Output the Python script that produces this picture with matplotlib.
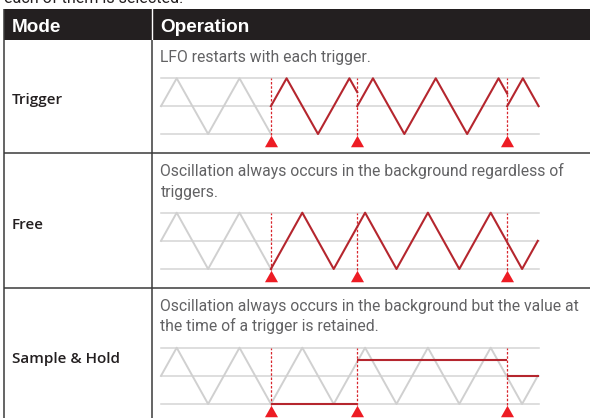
import matplotlib
matplotlib.use("Agg")
import matplotlib.pyplot as plt
from matplotlib.patches import Rectangle
from matplotlib.transforms import ScaledTranslation
from matplotlib import font_manager as fm

# ---------------- data ----------------
headers = ["Mode", "Operation"]
modes = ["Trigger", "Free", "Sample & Hold"]
descriptions = [
    "LFO restarts with each trigger.",
    "Oscillation always occurs in the background regardless of\ntriggers.",
    "Oscillation always occurs in the background but the value at\nthe time of a trigger is retained.",
]
intro_text = "each of them is selected."

# time in quarter LFO cycles, level -1..1
trigger_times = [7.0, 12.5, 22.05]
bg_t = [0, 1, 3, 5, 7, 9, 11, 13, 15, 17, 19, 21, 23, 24]
bg_v = [0, 1, -1, 1, -1, 1, -1, 1, -1, 1, -1, 1, -1, 0]

# Trigger mode: LFO restarts at each trigger
trig_seg1_t = [7.0, 8.0, 10.0, 12.0, 12.5]
trig_seg1_v = [0, 1, -1, 1, 0.5]
trig_seg2_t = [12.5, 13.5, 15.5, 17.5, 19.5, 21.5, 22.05]
trig_seg2_v = [0, 1, -1, 1, -1, 1, 0.45]
trig_seg3_t = [22.05, 23.05, 24.05]
trig_seg3_v = [0, 1, 0]

# Free mode: continuous oscillation from first trigger
free_t = [7, 9, 11, 13, 15, 17, 19, 21, 23, 24]
free_v = [-1, 1, -1, 1, -1, 1, -1, 1, -1, 0]

# Sample & Hold: held levels between triggers
hold_start = [7.0, 12.5, 22.05]
hold_end = [12.5, 22.05, 24.05]
hold_level = [-1.0, 0.55, 0.0]

# ---------------- style ----------------
W, H = 590, 418
DARK = "#231f20"
GRID = "#d4d4d4"
BG_WAVE = "#d0d0d0"
RED_WAVE = "#b5262e"
RED_TRI = "#ed1c24"
RED_DOT = "#d8262d"
TXT_GRAY = "#626264"

avail = {f.name for f in fm.fontManager.ttflist}
desc_font = "Roboto" if "Roboto" in avail else "DejaVu Sans"
label_font = "Open Sans" if "Open Sans" in avail else "DejaVu Sans"
head_font = "Liberation Sans" if "Liberation Sans" in avail else "DejaVu Sans"

fig = plt.figure(figsize=(W / 100, H / 100), dpi=100)
base = fig.add_axes([0, 0, 1, 1])
base.set_xlim(0, W)
base.set_ylim(H, 0)
base.axis("off")

# intro text partially cut off at top (as in the reference)
base.text(4.5, 2.6, intro_text, fontsize=11.6, family=desc_font, color=DARK,
          va="baseline", ha="left")

# header band
base.add_patch(Rectangle((4, 9), W - 4, 31, facecolor=DARK, edgecolor="none"))
base.plot([152, 152], [9, 40], color="white", lw=1.0)
base.text(12, 32.3, headers[0], fontsize=13.6, family=head_font, weight="bold",
          color="white", va="baseline")
base.text(160.5, 32.3, headers[1], fontsize=13.6, family=head_font, weight="bold",
          color="white", va="baseline")

# table lines
LINE = "#3a3a3a"
base.plot([4, 4], [9, H], color=LINE, lw=1.1, solid_capstyle="butt")
base.plot([152, 152], [40, H], color=LINE, lw=1.1, solid_capstyle="butt")
for yy in (153, 288):
    base.plot([4, W], [yy, yy], color=LINE, lw=1.1, solid_capstyle="butt")

# row texts
label_baselines = [104, 229, 363.3]
desc_baselines = [61.7, 176, 310.7]
for i, m in enumerate(modes):
    base.text(12, label_baselines[i], m, fontsize=11, family=label_font,
              weight="semibold", color=DARK, va="baseline")
    for j, line in enumerate(descriptions[i].split("\n")):
        base.text(160.5, desc_baselines[i] + j * 20.7, line, fontsize=11.3,
                  family=desc_font, weight="normal", color=TXT_GRAY,
                  va="baseline")

# waveform axes
row_lines = [(78.3, 134.0), (212.7, 269.0), (347.7, 404.0)]
x0_px, x1_px, q_px = 161.0, 539.0, 15.7
t_max = (x1_px - x0_px) / q_px

def wave_axes(top, bottom):
    ax = fig.add_axes([x0_px / W, (H - bottom) / H, (x1_px - x0_px) / W,
                       (bottom - top) / H])
    ax.set_xlim(0, t_max)
    ax.set_ylim(-1, 1)
    ax.axis("off")
    for lv in (-1, 0, 1):
        ax.axhline(lv, color=GRID, lw=1.1, clip_on=False, zorder=1)
    return ax

tri_verts = [(-1, -0.88), (1, -0.88), (0, 0.88), (-1, -0.88)]

def triggers(ax):
    off = ax.transData + ScaledTranslation(0, -0.071, fig.dpi_scale_trans)
    for t in trigger_times:
        ax.plot([t, t], [-1.03, 1], color=RED_DOT, lw=0.9,
                linestyle=(0, (2.0, 1.4)), clip_on=False, zorder=3)
        ax.plot([t], [-1], marker=tri_verts, markersize=9.4, color=RED_TRI,
                markeredgewidth=0, transform=off, clip_on=False, zorder=5)

ax1 = wave_axes(*row_lines[0])
ax1.plot(bg_t[:5], bg_v[:5], color=BG_WAVE, lw=1.4, clip_on=False, zorder=2)
for tt, vv in ((trig_seg1_t, trig_seg1_v), (trig_seg2_t, trig_seg2_v),
               (trig_seg3_t, trig_seg3_v)):
    ax1.plot(tt, vv, color=RED_WAVE, lw=1.5, clip_on=False, zorder=4)
triggers(ax1)

ax2 = wave_axes(*row_lines[1])
ax2.plot(bg_t[:5], bg_v[:5], color=BG_WAVE, lw=1.4, clip_on=False, zorder=2)
ax2.plot(free_t, free_v, color=RED_WAVE, lw=1.5, clip_on=False, zorder=4)
triggers(ax2)

ax3 = wave_axes(*row_lines[2])
ax3.plot(bg_t, bg_v, color=BG_WAVE, lw=1.4, clip_on=False, zorder=2)
ax3.hlines(hold_level, hold_start, hold_end, color=RED_WAVE, lw=1.5,
           clip_on=False, zorder=4)
triggers(ax3)

fig.savefig("out.png", dpi=100)
